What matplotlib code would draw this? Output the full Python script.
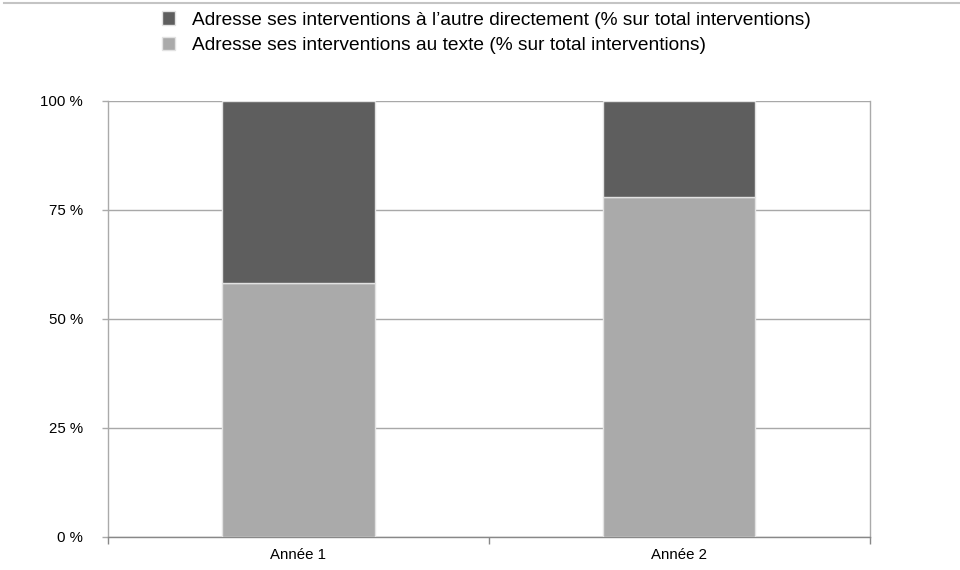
import matplotlib.pyplot as plt
from matplotlib.lines import Line2D

plt.rcParams['font.family'] = ['Liberation Sans', 'DejaVu Sans']

#data
annees = ["Année 1", "Année 2"]
au_texte = [58.3, 78.0]
a_l_autre = [41.7, 22.0]
labels_series = ["Adresse ses interventions à l’autre directement (% sur total interventions)",
                 "Adresse ses interventions au texte (% sur total interventions)"]
yticks = [0, 25, 50, 75, 100]

fig = plt.figure(figsize=(9.6, 5.7), dpi=100)
ax = fig.add_axes([0.1125, 0.058, 0.7935, 0.765])

x = list(range(len(annees)))
b1 = ax.bar(x, au_texte, width=0.4, color="#aaaaaa", edgecolor="#e2e2e2", linewidth=1, zorder=3)
b2 = ax.bar(x, a_l_autre, width=0.4, bottom=au_texte, color="#5e5e5e", edgecolor="#e2e2e2", linewidth=1, zorder=3)

#axes
ax.set_xlim(-0.5, 1.5)
ax.set_ylim(0, 100)
ax.set_yticks(yticks)
ax.set_yticklabels([str(v) + " %" for v in yticks])
ax.set_xticks(x)
ax.set_xticklabels(annees)
ax.set_xticks([-0.5, 0.5, 1.5], minor=True)
ax.tick_params(axis="x", which="major", length=0, pad=8, labelsize=10.8)
ax.tick_params(axis="x", which="minor", length=5, color="#888888", width=1)
ax.tick_params(axis="y", length=4, color="#aaaaaa", width=1, pad=14, labelsize=10.8)
ax.grid(axis="y", color="#a8a8a8", linewidth=1, zorder=0)
ax.spines["top"].set_visible(False)
ax.spines["left"].set_color("#aaaaaa")
ax.spines["right"].set_color("#aaaaaa")
ax.spines["bottom"].set_color("#888888")
for s in ax.spines.values():
    s.set_linewidth(1)

#legend
fig.legend([b2, b1], labels_series, loc="upper left", bbox_to_anchor=(0.157, 1.0),
           frameon=False, fontsize=13.8, handlelength=0.65, handleheight=0.7,
           handletextpad=0.9, labelspacing=0.4, borderaxespad=0.3, borderpad=0.3)

#thin line at the top
fig.add_artist(Line2D([0.004, 1.0], [0.995, 0.995], color="#c4c4c4", linewidth=1.5))

fig.savefig("out.png", dpi=100)
